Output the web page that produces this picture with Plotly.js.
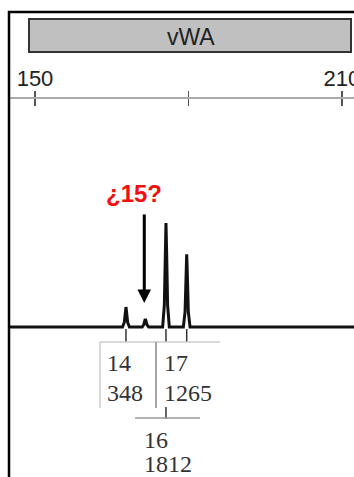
<!DOCTYPE html>
<html>
<head>
<meta charset="utf-8">
<script src="https://cdn.plot.ly/plotly-3.0.1.min.js"></script>
<style>html,body{margin:0;padding:0;background:#fff;}#chart{width:354px;height:477px;}</style>
</head>
<body>
<div id="chart"></div>
<script>
// ---- data ----
var locusName = 'vWA';
var alleleNames = ['14', '15', '16', '17'];
var allelePos = [167.78, 171.56, 175.60, 179.65];   // bp
var alleleRFU = [348, 140, 1812, 1265];              // peak heights
var alleleCalled = [true, false, true, true];
var axisTicks = [150, 180, 210];
var axisTickText = ['150', '', '210'];
var questionLabel = '¿15?';

// electropherogram trace (bp, RFU)
var traceBP = [145, 167.1, 167.45, 167.66, 167.78, 167.9, 168.11, 168.46,
               170.95, 171.25, 171.45, 171.56, 171.67, 171.87, 172.2,
               174.95, 175.28, 175.47, 175.60, 175.73, 175.92, 176.25,
               179.0, 179.33, 179.52, 179.65, 179.78, 179.97, 180.3, 213];
var traceRFU = [0, 0, 80, 260, 348, 260, 80, 0,
                0, 40, 115, 140, 115, 40, 0,
                0, 380, 1300, 1812, 1300, 380, 0,
                0, 265, 900, 1265, 900, 265, 0, 0];

// ---- layout helpers ----
var W = 354, H = 477;
function px(x) { return x / W; }
function py(y) { return 1 - y / H; }
var xr = [143.16, 212.35];

var trace = {
  x: traceBP, y: traceRFU, type: 'scatter', mode: 'lines',
  line: {color: '#111', width: 3}, hoverinfo: 'skip', showlegend: false
};

var shapes = [];
// white margin left of the frame (hides the axis line there)
shapes.push({type: 'rect', xref: 'paper', yref: 'paper', x0: -0.01, x1: px(9), y0: -0.05, y1: 1.05,
  fillcolor: '#fff', line: {width: 0}, layer: 'above'});
// outer frame
shapes.push({type: 'rect', xref: 'paper', yref: 'paper', x0: px(9), x1: 1.05, y0: -0.05, y1: py(12),
  line: {color: '#000', width: 2.5}, layer: 'above'});
// locus bar
shapes.push({type: 'rect', xref: 'paper', yref: 'paper', x0: px(29), x1: px(351), y0: py(52), y1: py(19),
  fillcolor: '#c0c0c0', line: {color: '#333', width: 2}, layer: 'below'});
// allele tick marks under baseline
for (var i = 0; i < alleleNames.length; i++) {
  if (!alleleCalled[i]) continue;
  shapes.push({type: 'line', xref: 'x', yref: 'paper', x0: allelePos[i], x1: allelePos[i],
    y0: py(329), y1: py(342), line: {color: '#333', width: 1.5}});
}
// label boxes
shapes.push({type: 'line', xref: 'paper', yref: 'paper', x0: px(100), x1: px(220), y0: py(342), y1: py(342), line: {color: '#ccc', width: 1.5}});
shapes.push({type: 'line', xref: 'paper', yref: 'paper', x0: px(100), x1: px(100), y0: py(342), y1: py(408), line: {color: '#ccc', width: 1.5}});
shapes.push({type: 'line', xref: 'paper', yref: 'paper', x0: px(156), x1: px(156), y0: py(342), y1: py(408), line: {color: '#888', width: 1.5}});
shapes.push({type: 'line', xref: 'x', yref: 'paper', x0: allelePos[2], x1: allelePos[2], y0: py(407), y1: py(419), line: {color: '#333', width: 1.5}});
shapes.push({type: 'line', xref: 'paper', yref: 'paper', x0: px(135), x1: px(200), y0: py(418), y1: py(418), line: {color: '#999', width: 1.5}});

var serif = {family: 'Liberation Serif, Times New Roman, serif', size: 24, color: '#333'};
function lab(text, x, y) {
  return {text: text, xref: 'paper', yref: 'paper', x: px(x), y: py(y), xanchor: 'left', yanchor: 'middle',
    showarrow: false, font: serif};
}
var annotations = [
  {text: locusName, xref: 'paper', yref: 'paper', x: px(190.5), y: py(37), xanchor: 'center', yanchor: 'middle',
   showarrow: false, font: {family: 'Liberation Sans, Arial, sans-serif', size: 23, color: '#222'}},
  lab(alleleNames[0], 105, 363), lab(String(alleleRFU[0]), 105, 393),
  lab(alleleNames[3], 162, 363), lab(String(alleleRFU[3]), 162, 393),
  lab(alleleNames[2], 142, 440), lab(String(alleleRFU[2]), 142, 464),
  {text: '<b>' + questionLabel + '</b>', xref: 'paper', yref: 'paper', x: px(133.5), y: py(193),
   xanchor: 'center', yanchor: 'middle', showarrow: false,
   font: {family: 'Liberation Sans, Arial, sans-serif', size: 24, color: '#f01010'}},
  {text: '', xref: 'x', yref: 'y', x: 171.36, y: 418, ax: 0, ay: -90, showarrow: true,
   arrowhead: 2, arrowsize: 0.9, arrowwidth: 3, arrowcolor: '#000', standoff: 0}
];

var layout = {
  width: W, height: H, margin: {l: 0, r: 0, t: 0, b: 0},
  paper_bgcolor: '#fff', plot_bgcolor: '#fff', showlegend: false,
  xaxis: {range: xr, visible: false, fixedrange: true},
  yaxis: {range: [-2613, 5697], visible: false, fixedrange: true},
  xaxis2: {range: xr, overlaying: 'x', anchor: 'free', position: py(98), side: 'top',
    showline: true, linecolor: '#aaa', linewidth: 2, showgrid: false, zeroline: false,
    ticks: 'outside', ticklen: 6, tickwidth: 1.5, tickcolor: '#555',
    ticklabeloverflow: 'allow', ticklabelstandoff: -4,
    tickmode: 'array', tickvals: axisTicks, ticktext: axisTickText,
    tickfont: {family: 'Liberation Sans, Arial, sans-serif', size: 22, color: '#222'}},
  xaxis3: {range: xr, overlaying: 'x', anchor: 'free', position: py(98), side: 'bottom',
    showline: false, showgrid: false, zeroline: false, showticklabels: false,
    ticks: 'outside', ticklen: 7, tickwidth: 1.5, tickcolor: '#555',
    tickmode: 'array', tickvals: axisTicks},
  shapes: shapes, annotations: annotations
};

// invisible traces to activate the helper axes
var t2 = {x: [xr[0]], y: [0], xaxis: 'x2', yaxis: 'y', mode: 'markers', marker: {opacity: 0}, hoverinfo: 'skip'};
var t3 = {x: [xr[0]], y: [0], xaxis: 'x3', yaxis: 'y', mode: 'markers', marker: {opacity: 0}, hoverinfo: 'skip'};

Plotly.newPlot('chart', [trace, t2, t3], layout, {staticPlot: true});
</script>
</body>
</html>
